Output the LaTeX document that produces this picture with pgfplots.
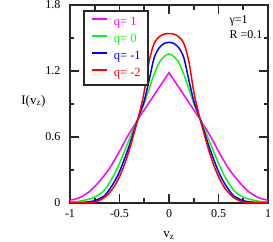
\documentclass[border=0pt]{standalone}
\usepackage{fontspec}
\setmainfont{Liberation Serif}
\usepackage{pgfplots}
\pgfplotsset{compat=1.18}
\definecolor{qmag}{RGB}{255,0,255}
\definecolor{qgreen}{RGB}{20,240,20}
\definecolor{qblue}{RGB}{0,0,255}
\definecolor{qred}{RGB}{255,0,0}
\definecolor{axc}{RGB}{40,40,40}
\begin{document}
\begin{tikzpicture}
\begin{axis}[
  at={(0pt,0pt)}, anchor=south west,
  width=198pt, height=198pt, scale only axis,
  xmin=-1, xmax=1, ymin=0, ymax=1.8,
  xtick={-1,-0.5,0,0.5,1}, xticklabels={-1,-0.5,0,0.5,1},
  minor xtick={-0.75,-0.25,0.25,0.75},
  ytick={0,0.6,1.2,1.8}, yticklabels={0,0.6,1.2,1.8},
  minor ytick={0.3,0.9,1.5},
  tick align=inside,
  major tick length=9pt, minor tick length=4.5pt,
  axis line style={line width=1.6pt, axc},
  every tick/.style={line width=1.6pt, axc},
  tick label style={font=\fontsize{12}{14}\selectfont},
  yticklabel style={xshift=-6pt},
  xticklabel style={yshift=-3pt},
  xlabel={v\textsubscript{z}},
  ylabel={I(v\textsubscript{z})},
  label style={font=\fontsize{13}{15}\selectfont},
  xlabel style={at={(axis description cs:0.5,-0.165)}, anchor=center},
  ylabel style={rotate=-90, at={(axis description cs:-0.185,0.515)}, anchor=center},
  legend style={at={(axis description cs:0.066,0.975)}, anchor=north west,
    draw=axc, line width=1.6pt, font=\fontsize{12.5}{14}\selectfont,
    nodes={inner sep=0pt, text height=9pt, text depth=3pt},
    row sep=5pt, column sep=6pt, inner xsep=7pt, inner ysep=5.5pt},
  legend cell align=left,
  legend image code/.code={\draw[line width=2pt] (0pt,3.5pt) -- (15pt,3.5pt);},
]
\addplot[qmag, line width=1.5pt] table {
-1 0.025
-0.95 0.035
-0.9 0.05
-0.85 0.075
-0.8 0.105
-0.75 0.15
-0.7 0.2
-0.65 0.255
-0.6 0.315
-0.55 0.39
-0.5 0.47
-0.45 0.555
-0.4 0.635
-0.3 0.78
-0.2 0.915
-0.1 1.05
0 1.185
0.1 1.05
0.2 0.915
0.3 0.78
0.4 0.635
0.45 0.555
0.5 0.47
0.55 0.39
0.6 0.315
0.65 0.255
0.7 0.2
0.75 0.15
0.8 0.105
0.85 0.075
0.9 0.05
0.95 0.035
1 0.025
};
\addlegendentry{\makebox[27pt][l]{\textcolor{qmag}{q= 1}}}
\addplot[qgreen, line width=1.5pt, smooth] table {
-1 0.008
-0.9 0.017
-0.8 0.038
-0.75 0.054
-0.7 0.08
-0.65 0.12
-0.6 0.185
-0.55 0.265
-0.5 0.36
-0.45 0.47
-0.4 0.58
-0.35 0.69
-0.3 0.795
-0.25 0.905
-0.2 1.04
-0.15 1.17
-0.1 1.275
-0.05 1.33
0 1.355
0.05 1.33
0.1 1.275
0.15 1.17
0.2 1.04
0.25 0.905
0.3 0.795
0.35 0.69
0.4 0.58
0.45 0.47
0.5 0.36
0.55 0.265
0.6 0.185
0.65 0.12
0.7 0.08
0.75 0.054
0.8 0.038
0.9 0.017
1 0.008
};
\addlegendentry{\makebox[27pt][l]{\textcolor{qgreen}{q= 0}}}
\addplot[qblue, line width=1.5pt, smooth] table {
-1 0.002
-0.9 0.004
-0.8 0.012
-0.75 0.021
-0.7 0.04
-0.65 0.067
-0.6 0.125
-0.55 0.195
-0.5 0.285
-0.45 0.4
-0.4 0.525
-0.35 0.665
-0.3 0.8
-0.25 0.93
-0.2 1.12
-0.15 1.32
-0.1 1.41
-0.05 1.45
0 1.46
0.05 1.45
0.1 1.41
0.15 1.32
0.2 1.12
0.25 0.93
0.3 0.8
0.35 0.665
0.4 0.525
0.45 0.4
0.5 0.285
0.55 0.195
0.6 0.125
0.65 0.067
0.7 0.04
0.75 0.021
0.8 0.012
0.9 0.004
1 0.002
};
\addlegendentry{\makebox[27pt][l]{\textcolor{qblue}{q= -1}}}
\addplot[qred, line width=1.5pt, smooth] table {
-1 0
-0.9 0.001
-0.8 0.003
-0.75 0.008
-0.7 0.025
-0.65 0.052
-0.6 0.095
-0.55 0.155
-0.5 0.24
-0.45 0.35
-0.4 0.485
-0.35 0.645
-0.3 0.81
-0.25 1.015
-0.2 1.29
-0.15 1.45
-0.1 1.51
-0.05 1.535
0 1.54
0.05 1.535
0.1 1.51
0.15 1.45
0.2 1.29
0.25 1.015
0.3 0.81
0.35 0.645
0.4 0.485
0.45 0.35
0.5 0.24
0.55 0.155
0.6 0.095
0.65 0.052
0.7 0.025
0.75 0.008
0.8 0.003
0.9 0.001
1 0
};
\addlegendentry{\makebox[27pt][l]{\textcolor{qred}{q= -2}}}
\node[anchor=west, font=\fontsize{12}{14}\selectfont, inner sep=0pt] at (rel axis cs:0.805,0.918) {γ=1};
\node[anchor=west, font=\fontsize{12}{14}\selectfont, inner sep=0pt] at (rel axis cs:0.805,0.852) {R =0.1};
\end{axis}
\pgfresetboundingbox
\useasboundingbox (-70pt,-38pt) rectangle (203pt,203pt);
\end{tikzpicture}
\end{document}
